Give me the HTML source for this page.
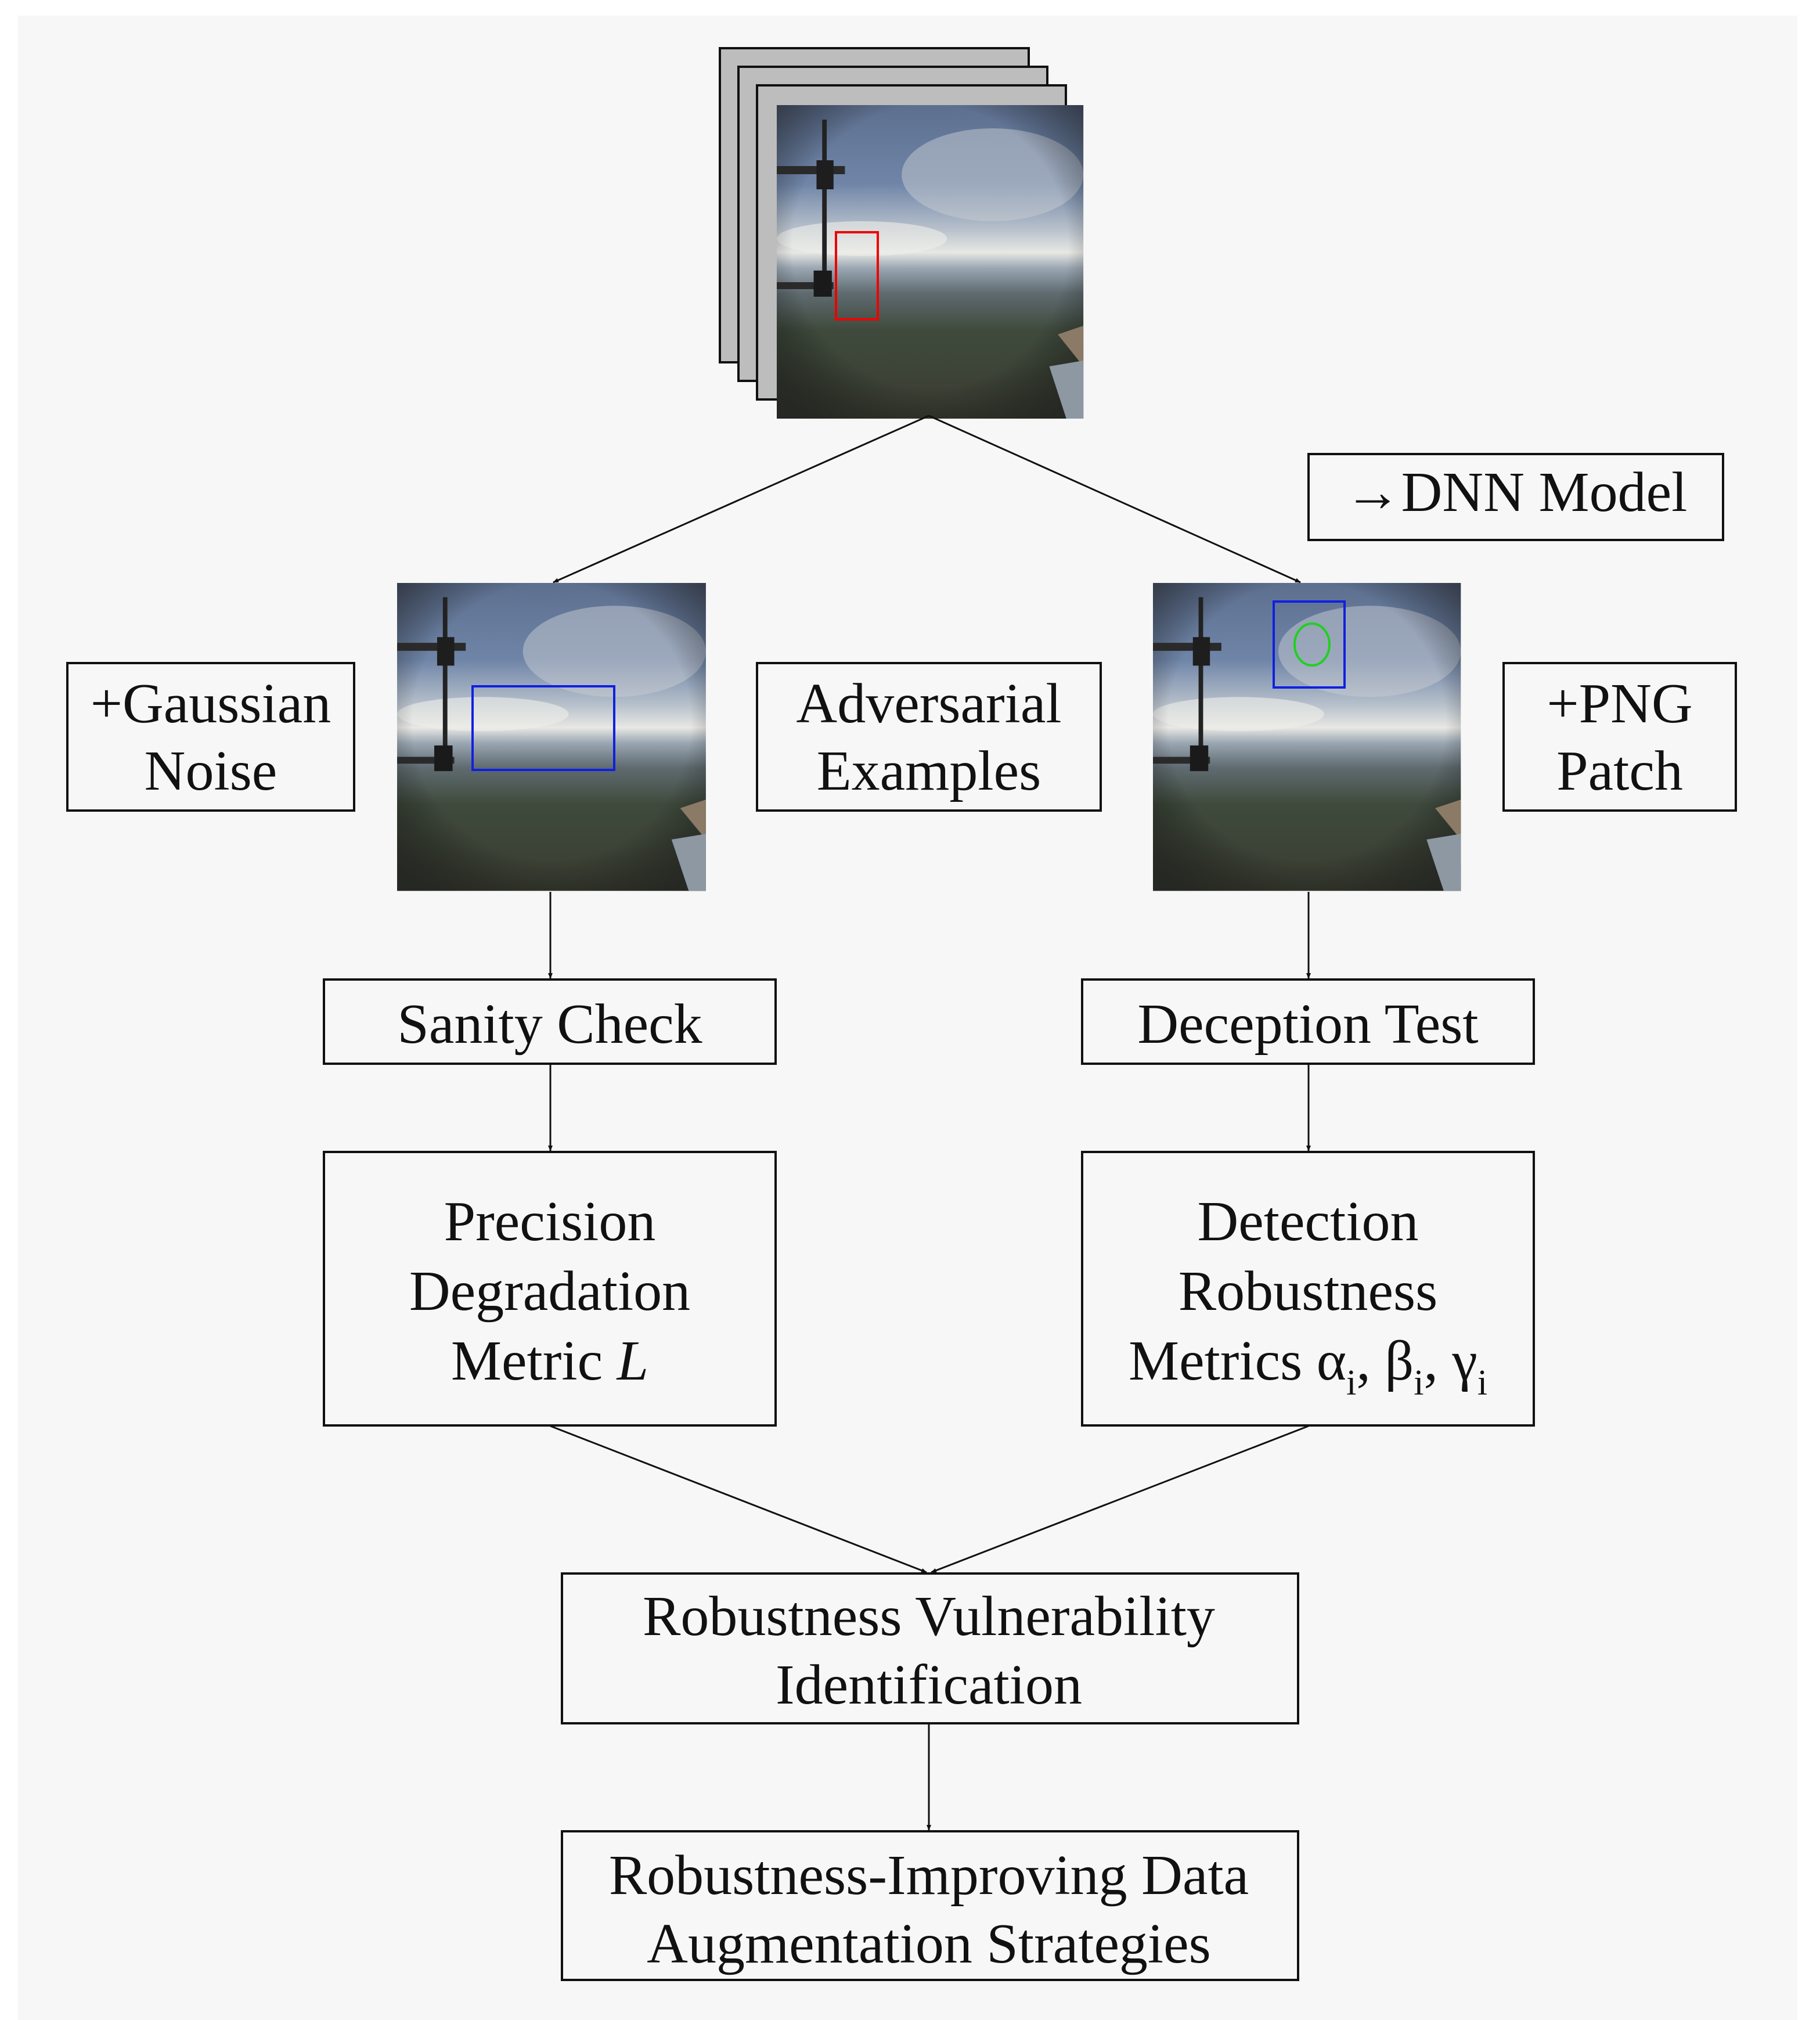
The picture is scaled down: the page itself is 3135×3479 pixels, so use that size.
<!DOCTYPE html>
<html><head><meta charset="utf-8"><style>
html,body{margin:0;padding:0;background:#fff}
svg{display:block}
text{font-family:"Liberation Serif",serif;font-size:98px;fill:#111}
</style></head><body>
<svg width="3135" height="3479" viewBox="0 0 3135 3479" xmlns="http://www.w3.org/2000/svg">
<defs>
<linearGradient id="sky" x1="0" y1="0" x2="0" y2="1">
<stop offset="0" stop-color="#5d6f8e"/>
<stop offset="0.25" stop-color="#6f85a8"/>
<stop offset="0.4" stop-color="#b9c2cc"/>
<stop offset="0.47" stop-color="#e8e8e4"/>
<stop offset="0.52" stop-color="#9aa6b2"/>
<stop offset="0.6" stop-color="#5f6b70"/>
<stop offset="0.72" stop-color="#3f4a3c"/>
<stop offset="1" stop-color="#3a3d32"/>
</linearGradient>
<radialGradient id="vig" cx="0.5" cy="0.45" r="0.75">
<stop offset="0.6" stop-color="#000" stop-opacity="0"/>
<stop offset="1" stop-color="#222" stop-opacity="0.8"/>
</radialGradient>
<marker id="ah" markerWidth="10" markerHeight="10" refX="9" refY="5" orient="auto" markerUnits="userSpaceOnUse">
<path d="M0,1 L10,5 L0,9 z" fill="#111"/>
</marker>
<g id="photo">
<rect x="0" y="0" width="540" height="540" fill="url(#sky)"/>
<ellipse cx="380" cy="120" rx="160" ry="80" fill="#c8ccd2" opacity="0.5"/>
<ellipse cx="150" cy="230" rx="150" ry="30" fill="#eeeeea" opacity="0.6"/>
<rect x="0" y="0" width="540" height="540" fill="url(#vig)"/>
<rect x="80" y="25" width="8" height="300" fill="#222"/>
<rect x="0" y="105" width="120" height="14" fill="#2a2a2a"/>
<rect x="70" y="95" width="30" height="50" fill="#1e1e1e"/>
<rect x="0" y="305" width="100" height="12" fill="#2a2a2a"/>
<rect x="65" y="285" width="32" height="45" fill="#1a1a1a"/>
<path d="M495,395 L540,380 L540,450 Z" fill="#8a7a66"/>
<path d="M480,450 L540,440 L540,540 L510,540 Z" fill="#8d98a3"/>
</g>
</defs>
<rect x="31" y="27" width="3065" height="3452" fill="#f7f7f7"/>
<rect x="1240" y="83" width="532" height="541" fill="#bdbdbd" stroke="#111" stroke-width="4"/>
<rect x="1272" y="115" width="532" height="541" fill="#bdbdbd" stroke="#111" stroke-width="4"/>
<rect x="1304" y="147" width="532" height="541" fill="#bdbdbd" stroke="#111" stroke-width="4"/>
<use href="#photo" transform="translate(1338,181) scale(0.978,1.0)"/>
<rect x="1440" y="400" width="72" height="150" fill="none" stroke="#e00" stroke-width="4"/>
<use href="#photo" transform="translate(684,1004) scale(0.985,0.982)"/>
<rect x="814" y="1182" width="244" height="144" fill="none" stroke="#1020e0" stroke-width="4"/>
<use href="#photo" transform="translate(1986,1004) scale(0.982,0.982)"/>
<rect x="2194" y="1036" width="122" height="148" fill="none" stroke="#1020e0" stroke-width="4"/>
<ellipse cx="2260" cy="1110" rx="30" ry="36" fill="none" stroke="#20d020" stroke-width="4"/>
<g stroke="#111" stroke-width="3" fill="none" marker-end="url(#ah)">
<line x1="1600" y1="716" x2="953" y2="1003"/>
<line x1="1600" y1="716" x2="2240" y2="1003"/>
<line x1="948" y1="1536" x2="948" y2="1685"/>
<line x1="2254" y1="1536" x2="2254" y2="1685"/>
<line x1="948" y1="1834" x2="948" y2="1982"/>
<line x1="2254" y1="1834" x2="2254" y2="1982"/>
<line x1="948" y1="2456" x2="1596" y2="2708"/>
<line x1="2254" y1="2456" x2="1604" y2="2708"/>
<line x1="1600" y1="2970" x2="1600" y2="3152"/>
</g>
<g fill="#f7f7f7" stroke="#111" stroke-width="4">
<rect x="2254" y="782" width="714" height="148"/>
<rect x="116" y="1142" width="494" height="254"/>
<rect x="1304" y="1142" width="592" height="254"/>
<rect x="2590" y="1142" width="400" height="254"/>
<rect x="558" y="1687" width="778" height="145"/>
<rect x="1864" y="1687" width="778" height="145"/>
<rect x="558" y="1984" width="778" height="471"/>
<rect x="1864" y="1984" width="778" height="471"/>
<rect x="968" y="2710" width="1268" height="258"/>
<rect x="968" y="3154" width="1268" height="256"/>
</g>
<g text-anchor="middle">
<text x="2611" y="880">→DNN Model</text>
<text x="363" y="1244">+Gaussian</text>
<text x="363" y="1360">Noise</text>
<text x="1600" y="1244">Adversarial</text>
<text x="1600" y="1360">Examples</text>
<text x="2790" y="1244">+PNG</text>
<text x="2790" y="1360">Patch</text>
<text x="947" y="1796">Sanity Check</text>
<text x="2253" y="1796">Deception Test</text>
<text x="947" y="2136">Precision</text>
<text x="947" y="2256">Degradation</text>
<text x="947" y="2376">Metric <tspan font-style="italic">L</tspan></text>
<text x="2253" y="2136">Detection</text>
<text x="2253" y="2256">Robustness</text>
<text x="2253" y="2376">Metrics α<tspan font-size="62" dy="26">i</tspan><tspan dy="-26">, β</tspan><tspan font-size="62" dy="26">i</tspan><tspan dy="-26">, γ</tspan><tspan font-size="62" dy="26">i</tspan></text>
<text x="1600" y="2816">Robustness Vulnerability</text>
<text x="1600" y="2934">Identification</text>
<text x="1600" y="3262">Robustness-Improving Data</text>
<text x="1600" y="3380">Augmentation Strategies</text>
</g>
</svg>
</body></html>
